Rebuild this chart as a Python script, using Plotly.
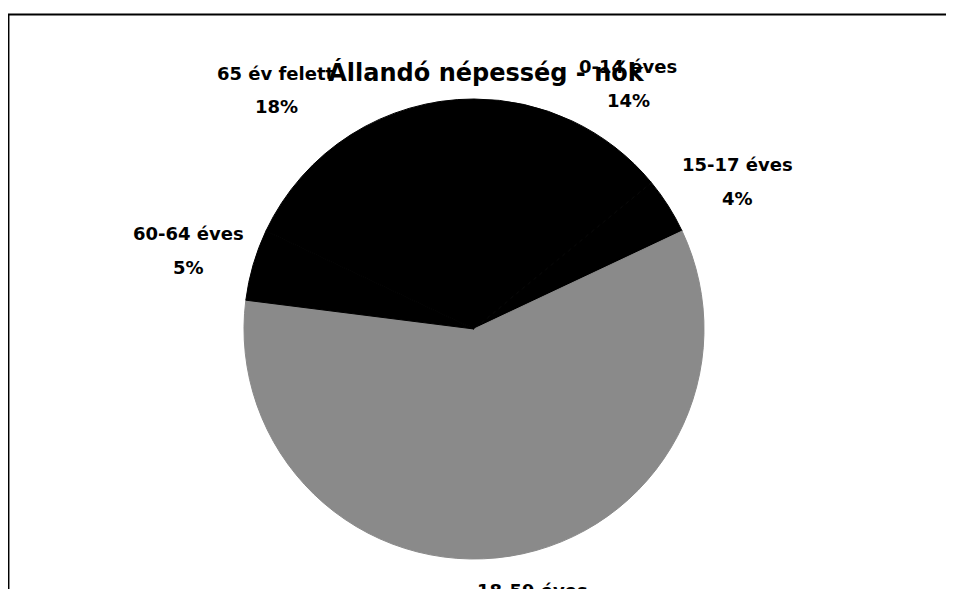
import plotly.graph_objects as go

# data
groups = ["0-14 éves", "15-17 éves", "18-59 éves", "60-64 éves", "65 év felett"]
shares = [14, 4, 59, 5, 18]
slice_colors = ["#000000", "#000000", "#8a8a8a", "#000000", "#000000"]

W, H = 954, 589
OFF = 8  # the page body margin shifts the figure by this much
cx, cy, r = 474 - OFF, 329 - OFF, 230  # pie centre / radius in px

# label centres (px, reference picture) where the source chart put them
label_pos = [(628, 67), (737, 165), (532, 590), (188, 234), (276, 73)]

fig = go.Figure(go.Pie(
    labels=groups,
    values=shares,
    sort=False,
    direction="clockwise",
    rotation=0,
    marker=dict(colors=slice_colors, line=dict(color=slice_colors, width=1)),
    textinfo="none",
    hoverinfo="label+percent",
    domain=dict(x=[(cx - r) / W, (cx + r) / W],
                y=[(H - cy - r) / H, (H - cy + r) / H]),
))

total = sum(shares)
lbl_font = dict(family="DejaVu Sans", size=18, color="black", weight="bold")
for name, val, (px, py) in zip(groups, shares, label_pos):
    px, py = px - OFF, py - OFF
    pct = "%d%%" % round(100 * val / total)
    fig.add_annotation(x=px / W, y=(H - py) / H, xref="paper", yref="paper",
                       text=name, showarrow=False, font=lbl_font,
                       xanchor="center", yanchor="middle")
    fig.add_annotation(x=px / W, y=(H - py - 33) / H, xref="paper", yref="paper",
                       text=pct, showarrow=False, font=lbl_font,
                       xanchor="center", yanchor="middle")

# outer frame of the scanned chart
fig.add_shape(type="rect", xref="paper", yref="paper",
              x0=(7.5 - OFF) / W + 0.001, x1=1.05, y0=-0.05,
              y1=(H - 14.5 + OFF) / H,
              line=dict(color="black", width=2), layer="below")

fig.update_layout(
    width=W, height=H,
    margin=dict(l=0, r=0, t=0, b=0),
    paper_bgcolor="white",
    showlegend=False,
    title=dict(text="Állandó népesség - nők", x=(486 - OFF) / W, xanchor="center",
               y=(H - 73 + OFF) / H, yanchor="middle",
               font=dict(family="DejaVu Sans", size=24, color="black", weight="bold")),
)

fig.write_html("out.html")
